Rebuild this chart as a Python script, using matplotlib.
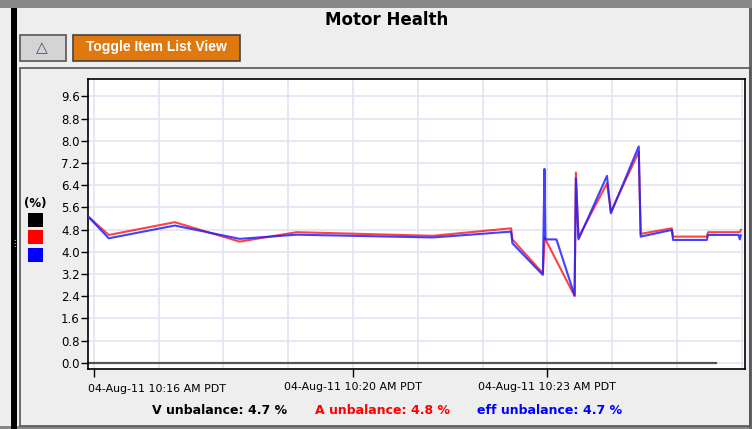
import numpy as np
import matplotlib as mpl
mpl.use('agg')

import matplotlib.pyplot as plt
from matplotlib.patches import Rectangle

# minutes after 10:16 AM
red_t = [-0.09, 0.23, 1.25, 2.25, 3.13, 5.23, 6.44, 6.46, 6.93, 6.96, 7.42, 7.44, 7.48, 7.92, 7.98, 8.41, 8.44, 8.92, 8.94, 9.46, 9.48, 9.97, 9.985]
red_v = [5.28, 4.61, 5.07, 4.37, 4.71, 4.58, 4.85, 4.45, 3.23, 4.50, 2.41, 6.86, 4.52, 6.47, 5.45, 7.60, 4.65, 4.85, 4.55, 4.55, 4.71, 4.71, 4.79]
blue_t = [-0.09, 0.23, 1.25, 2.25, 3.13, 5.23, 6.44, 6.46, 6.93, 6.955, 6.97, 7.14, 7.42, 7.44, 7.48, 7.92, 7.98, 8.41, 8.44, 8.92, 8.94, 9.46, 9.48, 9.95, 9.97, 9.985]
blue_v = [5.28, 4.49, 4.95, 4.47, 4.62, 4.52, 4.73, 4.31, 3.17, 6.99, 4.45, 4.45, 2.43, 6.65, 4.45, 6.74, 5.39, 7.80, 4.55, 4.79, 4.43, 4.43, 4.61, 4.61, 4.45, 4.60]
black_t = [-0.09, 9.6]
black_v = [0.0, 0.0]

tick_pos = [0, 4, 7]
tick_labels = ['04-Aug-11 10:16 AM PDT', '04-Aug-11 10:20 AM PDT', '04-Aug-11 10:23 AM PDT']
legend = [('V unbalance: ', '4.7 %', 'black'), ('A unbalance: ', '4.8 %', 'red'), ('eff unbalance: ', '4.7 %', 'blue')]

W, H = 752, 429
fig = plt.figure(figsize=(W / 100, H / 100), dpi=100)
fig.patch.set_facecolor('#eeeeee')


def box(x, y, w, h, fc, ec='none', lw=1, z=0):
    fig.patches.append(Rectangle((x / W, 1 - (y + h) / H), w / W, h / H, transform=fig.transFigure,
                                 facecolor=fc, edgecolor=ec, linewidth=lw, zorder=z))


def txt(x, y, s, **kw):
    return fig.text(x / W, 1 - y / H, s, **kw)


# frame pieces
box(0, 0, W, 8, '#888888')
box(0, 426, W, 3, '#888888')
box(11, 8, 6, 421, 'black')
box(749, 8, 3, 421, '#666666')
box(19.5, 67.5, 730, 358, 'none', ec='#555555', lw=1.2)
txt(14, 244, '\u22ee', color='white', fontsize=6, ha='center', va='center')

txt(387, 20, 'Motor Health', fontsize=12, fontweight='bold', ha='center', va='center')

# buttons
box(19.5, 34.5, 46, 26, '#d4d4d4', ec='#555555', lw=1.2)
txt(42, 48, '\u25b3', fontsize=11, color='#4a4a80', ha='center', va='center')
box(72.5, 34.5, 167, 26, '#e07810', ec='#444444', lw=1.2)
txt(156, 47, 'Toggle Item List View', fontsize=10, fontweight='bold', color='white',
    family='Liberation Sans', ha='center', va='center')

# series key at left
txt(35, 204, '(%)', fontsize=8.5, fontweight='bold', ha='center', va='center')
box(28, 213, 15, 14, 'black')
box(28, 230, 15, 14, '#ff0000')
box(28, 248, 15, 14, '#0000ff')

ax = fig.add_axes([88 / W, 1 - 369 / H, (745 - 88) / W, (369 - 79) / H])
ax.set_facecolor('white')
ax.plot(black_t, black_v, color='#555555', lw=1.6, zorder=2)
ax.plot(red_t, red_v, color='#ff2020', lw=1.5, alpha=0.85, zorder=3)
ax.plot(blue_t, blue_v, color='#2020ff', lw=1.5, alpha=0.85, zorder=4)

ax.set_xlim(-0.09, 10.05)
ax.set_ylim(-0.22, 10.23)
ax.set_yticks(np.arange(0, 10.0, 0.8))
ax.set_yticklabels(['%.1f' % v for v in np.arange(0, 10.0, 0.8)])
ax.set_xticks(tick_pos)
ax.set_xticklabels(tick_labels)
ax.set_xticks(np.arange(0, 11, 1), minor=True)
ax.tick_params(axis='y', length=5, width=1, labelsize=8.5, pad=1)
ax.tick_params(axis='x', which='major', length=6, width=1, labelsize=7.9, pad=3)
ax.tick_params(axis='x', which='minor', length=0)
ax.grid(True, which='both', axis='x', color='#e4e4f4', lw=1.2, zorder=0)
ax.grid(True, which='major', axis='y', color='#e4e4f4', lw=1.2, zorder=0)
for s in ax.spines.values():
    s.set_linewidth(1.2)
ax.get_xticklabels()[0].set_visible(False)
# first label is kept inside the plot edge
ax.text(0, -0.052, tick_labels[0], transform=ax.transAxes, fontsize=7.9, ha='left', va='top')

# bottom legend text
xs = [152, 315, 477]
for (lab, val, col), x0 in zip(legend, xs):
    t = txt(x0, 411, lab, fontsize=9, color=col, fontweight='bold', va='center')
    fig.canvas.draw()
    bb = t.get_window_extent()
    fig.text(bb.x1 / W, 1 - 411 / H, val, fontsize=9, color=col, fontweight='bold', va='center')

fig.savefig('out.png', dpi=100, facecolor=fig.get_facecolor())
